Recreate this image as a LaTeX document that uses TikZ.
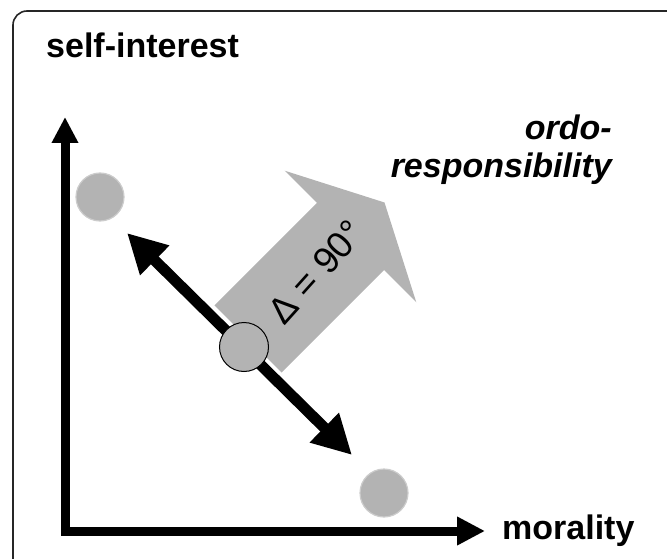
\documentclass[tikz,border=0pt]{standalone}
\usepackage{fontspec}
\setmainfont{Liberation Sans}
\usetikzlibrary{arrows.meta}
\definecolor{gfill}{HTML}{B3B3B3}
\definecolor{gedge}{HTML}{CCCCCC}
\begin{document}
\begin{tikzpicture}[x=1pt,y=-1pt,
  labelbold/.style={font=\fontsize{34}{40}\selectfont\bfseries, inner sep=0pt},
  labelbi/.style={font=\fontsize{34}{40}\selectfont\bfseries\itshape, inner sep=0pt},
  dot/.style={circle, fill=gfill, draw=gedge, line width=1.2pt, minimum size=48pt, inner sep=0pt},
  axisline/.style={line width=9pt, line join=miter},
  dblarrow/.style={line width=11pt, {Triangle[length=39pt,width=39pt]}-{Triangle[length=39pt,width=39pt]}},
]
\useasboundingbox (0,0) rectangle (667,559);
\clip (0,0) rectangle (667,559);
% frame
\draw[line width=1.6pt, draw=black!85, rounded corners=14pt] (13,11) rectangle (700,590);

% gray broad arrow
\fill[gfill] (214.4,305.4) -- (316.9,202.9) -- (284.7,170.7) -- (384.5,202.5)
  -- (416.3,302.3) -- (384.1,270.1) -- (281.6,372.6) -- cycle;
\node[rotate=48, inner sep=0pt, font=\fontsize{37}{44}\selectfont] (delta) at (316,272) {Δ = 90°};

% black double arrow
\coordinate (p1) at (127,233);
\coordinate (p2) at (352,455);
\draw[dblarrow] (p1) -- (p2);

% dots
\node[dot, draw=black, line width=1pt, minimum size=49pt] (m) at (244,347) {};
\node[dot] (a) at (100,197) {};
\node[dot] (b) at (384,493) {};

% axes
\coordinate (ytip) at (65,117);
\coordinate (corner) at (65,531);
\coordinate (xtip) at (485,531);
\draw[axisline, {Triangle[length=26pt,width=25pt]}-{Triangle[length=28pt,width=27pt]}] (ytip) -- (corner) -- (xtip);

% labels
\node[labelbold, anchor=base west] (si) at (46,58) {self-interest};
\node[labelbold, anchor=base west] (mo) at (502,539) {morality};
\node[labelbi, anchor=base east] (ordo) at (612,140) {ordo-};
\node[labelbi, anchor=base east] (resp) at (612,178) {responsibility};
\end{tikzpicture}
\end{document}
